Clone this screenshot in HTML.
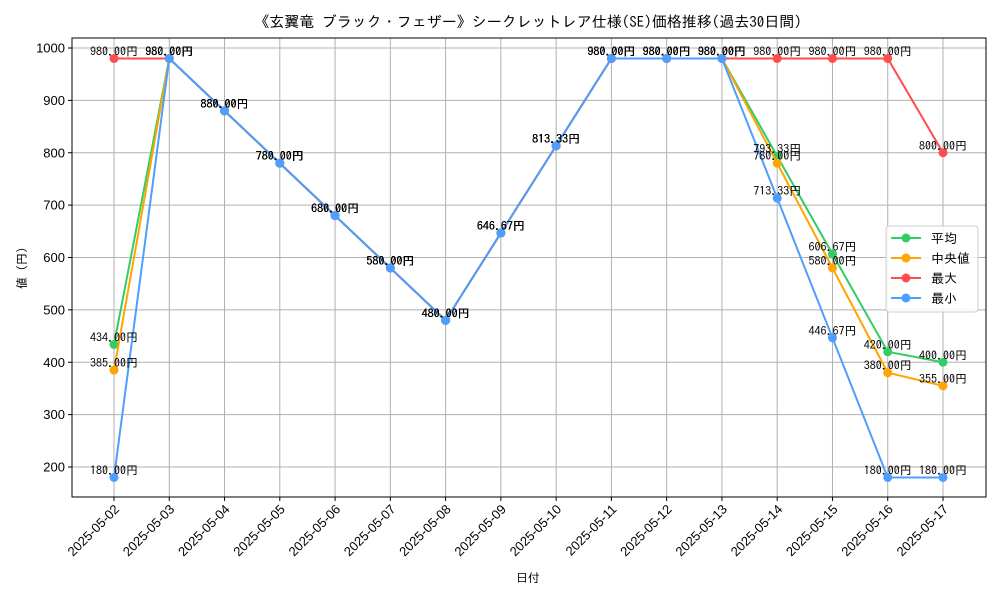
<!DOCTYPE html>
<html><head><meta charset="utf-8"><style>
body{margin:0;background:#fff}
svg{font-family:"Liberation Sans","IPAGothic","Noto Sans CJK JP",sans-serif}
</style></head><body>
<svg id="c" width="1000" height="600" viewBox="0 0 1000 600" xmlns="http://www.w3.org/2000/svg">
<rect width="1000" height="600" fill="#fff"/>
<text x="528" y="27" font-size="15" text-anchor="middle" font-family="IPAGothic,'Noto Sans CJK JP',sans-serif">《玄翼竜 ブラック・フェザー》シークレットレア仕様(SE)価格推移(過去30日間)</text>
<g id="grid"></g><g id="axes"></g><g id="series"></g><g id="labels"></g>
<rect x="72" y="38" width="914" height="459" fill="none" stroke="#000" stroke-width="1"/>
<text x="528" y="582" font-size="12" text-anchor="middle" font-family="IPAGothic,sans-serif">日付</text>
<text x="26" y="268" font-size="12" text-anchor="middle" transform="rotate(-90 26 268)" font-family="IPAGothic,sans-serif">値 (円)</text>
<g>
<rect x="886" y="226" width="92" height="86" rx="3" fill="#fff" fill-opacity="0.85" stroke="#ccc"/>
<g id="legend-items"></g>
</g>
</svg>
<script>
const dates=["2025-05-02","2025-05-03","2025-05-04","2025-05-05","2025-05-06","2025-05-07","2025-05-08","2025-05-09","2025-05-10","2025-05-11","2025-05-12","2025-05-13","2025-05-14","2025-05-15","2025-05-16","2025-05-17"];
const avgVals=[434,980,880,780,680,580,480,646.67,813.33,980,980,980,793.33,606.67,420,400];
const medVals=[385,980,880,780,680,580,480,646.67,813.33,980,980,980,780,580,380,355];
const maxVals=[980,980,880,780,680,580,480,646.67,813.33,980,980,980,980,980,980,800];
const minVals=[180,980,880,780,680,580,480,646.67,813.33,980,980,980,713.33,446.67,180,180];
const yTicks=[200,300,400,500,600,700,800,900,1000];
const seriesNames=["平均","中央値","最大","最小"];
const seriesKeys=["avg","median","max","min"];
const colors=["#33cc66","#ffa500","#ff4d4d","#4d9eff"];
const NS="http://www.w3.org/2000/svg";
const X=i=>114+i*(943-114)/15;
const Y=v=>467-(v-200)*0.52375;
function mk(t,a,p){const e=document.createElementNS(NS,t);for(const k in a)e.setAttribute(k,a[k]);p.appendChild(e);return e;}
const grid=document.getElementById('grid'),axes=document.getElementById('axes');
yTicks.forEach(v=>{
 const l=mk('line',{x1:72,x2:986,y1:Y(v),y2:Y(v),stroke:'#b0b0b0','stroke-width':1},grid);
 
 
 mk('line',{x1:68,x2:72,y1:Y(v),y2:Y(v),stroke:'#000'},axes);
 const t=mk('text',{x:65,y:Y(v)+4.5,'font-size':13,'text-anchor':'end'},axes);
 
 
 t.textContent=v;
});
dates.forEach((d,i)=>{
 const l=mk('line',{x1:X(i),x2:X(i),y1:38,y2:497,stroke:'#b0b0b0','stroke-width':1},grid);
 
 
 mk('line',{x1:X(i),x2:X(i),y1:497,y2:501,stroke:'#000'},axes);
 const t=mk('text',{x:X(i)+6,y:510,'font-size':13,'text-anchor':'end',transform:`rotate(-45 ${X(i)+6} 510)`},axes);
 
 
 t.textContent=d;
});
const sg=document.getElementById('series'),lg=document.getElementById('labels');
[avgVals,medVals,maxVals,minVals].forEach((vals,s)=>{
 const g=mk('g',{},sg);
 
 
 const p=mk('polyline',{points:vals.map((v,i)=>X(i)+','+Y(v)).join(' '),fill:'none',stroke:colors[s],'stroke-width':2},g);
 
 
 vals.forEach((v,i)=>{
  const c=mk('circle',{cx:X(i),cy:Y(v),r:4.5,fill:colors[s]},g);
  
  
  const t=mk('text',{x:X(i),y:Y(v)-3,'font-size':12,'text-anchor':'middle','font-family':'IPAGothic,sans-serif'},lg);
  
  
  t.textContent=v.toFixed(2)+'円';
 });
 const li=document.getElementById('legend-items');
 const ly=238+s*20;
 const le=mk('g',{},li);
 
 
 mk('line',{x1:891,x2:921,y1:ly,y2:ly,stroke:colors[s],'stroke-width':2},le);
 mk('circle',{cx:906,cy:ly,r:4.5,fill:colors[s]},le);
 const tt=mk('text',{x:931,y:ly+5,'font-size':13,'font-family':'IPAGothic,sans-serif'},le);
 tt.textContent=seriesNames[s];
});
</script>
</body></html>
